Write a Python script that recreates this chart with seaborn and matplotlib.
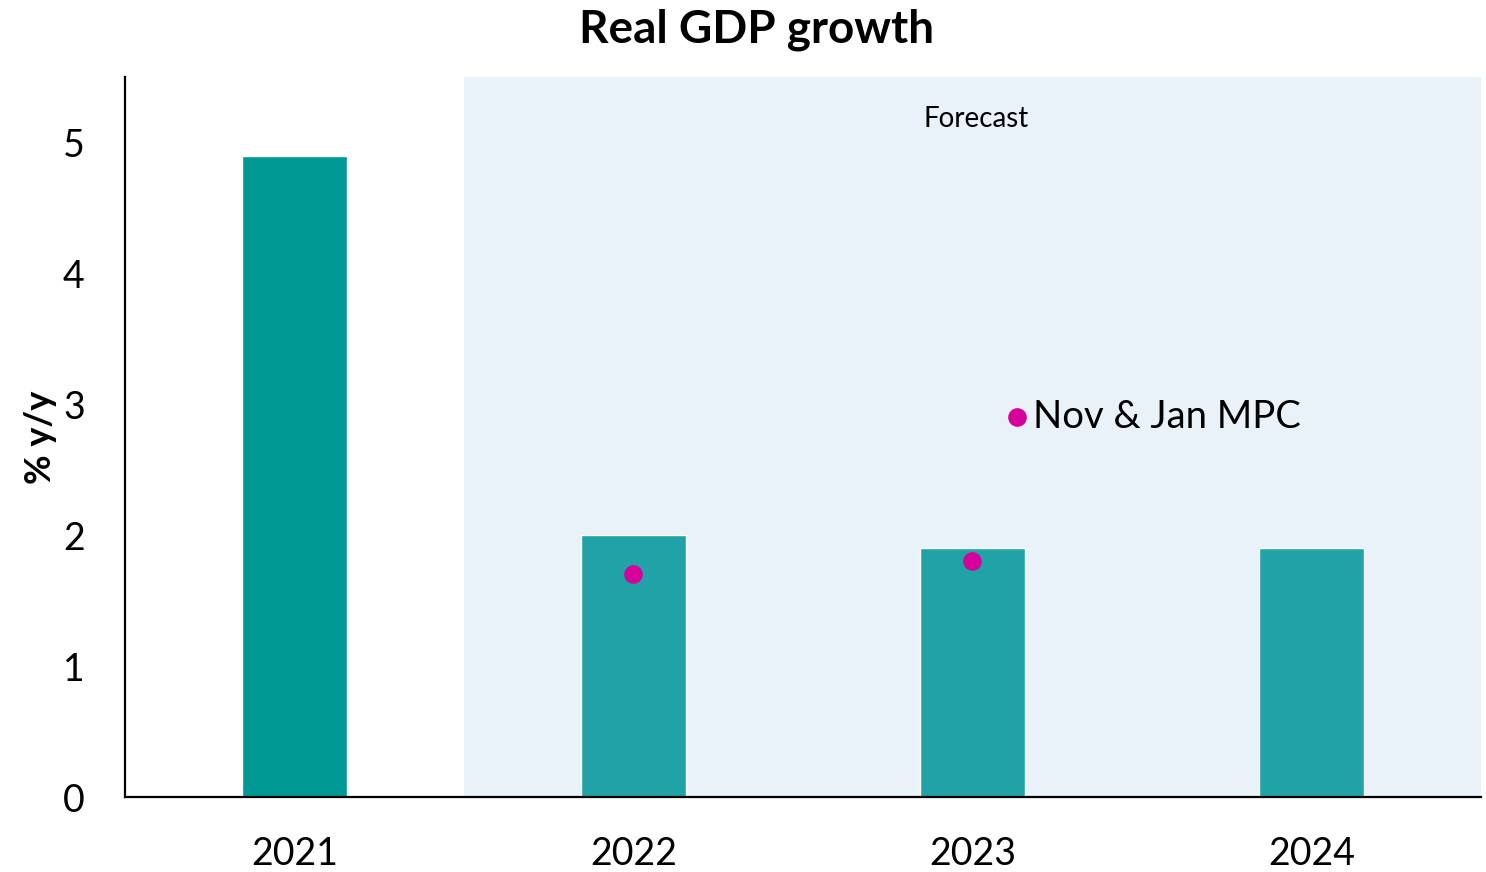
import matplotlib
matplotlib.use("Agg")
import matplotlib.pyplot as plt
import seaborn as sns
import pandas as pd

# Annual real GDP growth (% y/y), outturn then forecast
years = ["2021", "2022", "2023", "2024"]
growth = [4.9, 2.0, 1.9, 1.9]
bar_colors = ["#009994", "#20A2A6", "#20A2A6", "#20A2A6"]

# Earlier MPC projections shown as dots
mpc_years = ["2022", "2023"]
mpc_growth = [1.7, 1.8]
mpc_label = "Nov & Jan MPC"
mpc_key_y = 2.9

forecast_start = 0.5
dot_color = "#D6009A"
shade_color = "#E9F1F9"

sns.set_theme(style="white")
plt.rcParams["font.family"] = ["Lato", "DejaVu Sans"]
plt.rcParams["text.color"] = "black"
plt.rcParams["axes.labelcolor"] = "black"
plt.rcParams["xtick.color"] = "black"
plt.rcParams["ytick.color"] = "black"

fig = plt.figure(figsize=(14.86, 8.72), dpi=100)
ax = fig.add_axes([0.0841, 0.086, 0.9125, 0.8257])

bars = pd.DataFrame({"year": years, "growth": growth})

ax.axvspan(forecast_start, len(years) - 0.5, color=shade_color, zorder=0, lw=0)

sns.barplot(data=bars, x="year", y="growth", hue="year", palette=bar_colors,
            width=0.31, legend=False, ax=ax, zorder=2, saturation=1)

# Place MPC dots on the same categorical axis
pos = {y: i for i, y in enumerate(years)}
ax.scatter([pos[y] for y in mpc_years], mpc_growth, s=180, color=dot_color,
           zorder=3, linewidths=0)

# Inline key for the dots
ax.scatter([2.13], [mpc_key_y], s=180, color=dot_color, zorder=3, linewidths=0)
ax.text(2.18, mpc_key_y, mpc_label, fontsize=27.5, va="center", ha="left")

ax.text(2.01, 5.18, "Forecast", fontsize=20, ha="center", va="center")

ax.set_xlim(-0.5, len(years) - 0.5)
ax.set_ylim(0, 5.5)
ax.set_yticks([0, 1, 2, 3, 4, 5])
ax.tick_params(axis="both", length=0, labelsize=27)
ax.tick_params(axis="x", pad=28)
ax.tick_params(axis="y", pad=29)
ax.set_xlabel("")
ax.set_ylabel("% y/y", fontsize=26, fontweight="bold", labelpad=4)

for side in ["top", "right"]:
    ax.spines[side].set_visible(False)
for side in ["left", "bottom"]:
    ax.spines[side].set_color("black")
    ax.spines[side].set_linewidth(1.6)

fig.suptitle("Real GDP growth", fontsize=33, fontweight="bold", x=0.509, y=0.99)

fig.savefig("out.png", dpi=100)
